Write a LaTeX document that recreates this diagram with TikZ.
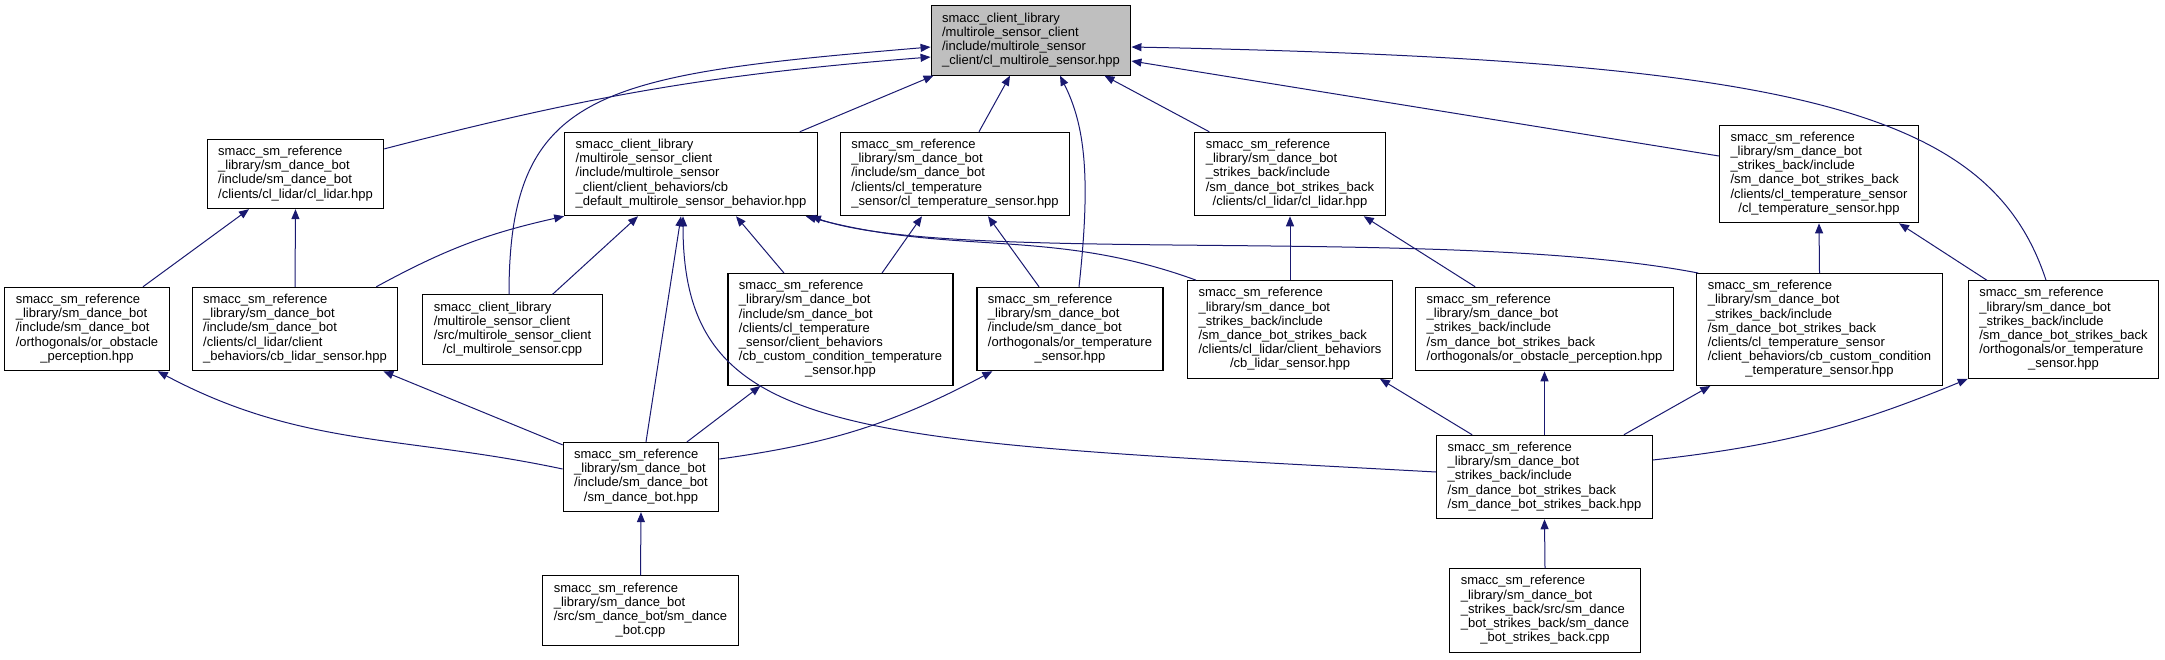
\documentclass[tikz,border=0pt]{standalone}
\usepackage{fontspec}
\setmainfont{Liberation Sans}
\usetikzlibrary{arrows.meta}
\definecolor{edgeblue}{HTML}{191970}
\definecolor{rootgray}{HTML}{BFBFBF}
\newcommand\lastln[1]{\multicolumn{1}{@{}c@{}}{#1}}
\newcommand\flines[1]{\begin{tabular}{@{}l@{}}#1\end{tabular}}
\tikzset{
  filebox/.style={draw=black,line width=1.1pt,fill=white,inner xsep=11pt,inner ysep=6.2pt,font=\fontsize{13}{14.2}\selectfont},
  rootbox/.style={filebox,fill=rootgray},
  incl/.style={draw=edgeblue,line width=1pt,->},
}
\begin{document}
\begin{tikzpicture}[x=1pt,y=1pt,>={Triangle[length=10pt,width=8pt]}]
\useasboundingbox (0,0) rectangle (2165,-659);
\node[rootbox] (mshpp) at (1031,-40.5) {\flines{smacc\_client\_library\\/multirole\_sensor\_client\\/include/multirole\_sensor\\\_client/cl\_multirole\_sensor.hpp}};
\node[filebox] (dblidar) at (295.5,-174) {\flines{smacc\_sm\_reference\\\_library/sm\_dance\_bot\\/include/sm\_dance\_bot\\/clients/cl\_lidar/cl\_lidar.hpp}};
\node[filebox] (cbdefault) at (691,-174) {\flines{smacc\_client\_library\\/multirole\_sensor\_client\\/include/multirole\_sensor\\\_client/client\_behaviors/cb\\\_default\_multirole\_sensor\_behavior.hpp}};
\node[filebox] (dbtemp) at (955,-174) {\flines{smacc\_sm\_reference\\\_library/sm\_dance\_bot\\/include/sm\_dance\_bot\\/clients/cl\_temperature\\\_sensor/cl\_temperature\_sensor.hpp}};
\node[filebox] (sblidar) at (1290,-174) {\flines{smacc\_sm\_reference\\\_library/sm\_dance\_bot\\\_strikes\_back/include\\/sm\_dance\_bot\_strikes\_back\\\lastln{/clients/cl\_lidar/cl\_lidar.hpp}}};
\node[filebox] (sbtemp) at (1819,-174) {\flines{smacc\_sm\_reference\\\_library/sm\_dance\_bot\\\_strikes\_back/include\\/sm\_dance\_bot\_strikes\_back\\/clients/cl\_temperature\_sensor\\\lastln{/cl\_temperature\_sensor.hpp}}};
\node[filebox] (dbobst) at (87,-329) {\flines{smacc\_sm\_reference\\\_library/sm\_dance\_bot\\/include/sm\_dance\_bot\\/orthogonals/or\_obstacle\\\lastln{\_perception.hpp}}};
\node[filebox] (dbcblidar) at (295,-329) {\flines{smacc\_sm\_reference\\\_library/sm\_dance\_bot\\/include/sm\_dance\_bot\\/clients/cl\_lidar/client\\\_behaviors/cb\_lidar\_sensor.hpp}};
\node[filebox] (mscpp) at (512.5,-329.5) {\flines{smacc\_client\_library\\/multirole\_sensor\_client\\/src/multirole\_sensor\_client\\\lastln{/cl\_multirole\_sensor.cpp}}};
\node[filebox] (dbcbtemp) at (840.5,-329.5) {\flines{smacc\_sm\_reference\\\_library/sm\_dance\_bot\\/include/sm\_dance\_bot\\/clients/cl\_temperature\\\_sensor/client\_behaviors\\/cb\_custom\_condition\_temperature\\\lastln{\_sensor.hpp}}};
\node[filebox] (dbortemp) at (1070,-329) {\flines{smacc\_sm\_reference\\\_library/sm\_dance\_bot\\/include/sm\_dance\_bot\\/orthogonals/or\_temperature\\\lastln{\_sensor.hpp}}};
\node[filebox] (sbcblidar) at (1290,-329.5) {\flines{smacc\_sm\_reference\\\_library/sm\_dance\_bot\\\_strikes\_back/include\\/sm\_dance\_bot\_strikes\_back\\/clients/cl\_lidar/client\_behaviors\\\lastln{/cb\_lidar\_sensor.hpp}}};
\node[filebox] (sbobst) at (1544.5,-329) {\flines{smacc\_sm\_reference\\\_library/sm\_dance\_bot\\\_strikes\_back/include\\/sm\_dance\_bot\_strikes\_back\\/orthogonals/or\_obstacle\_perception.hpp}};
\node[filebox] (sbcbtemp) at (1819.5,-329.5) {\flines{smacc\_sm\_reference\\\_library/sm\_dance\_bot\\\_strikes\_back/include\\/sm\_dance\_bot\_strikes\_back\\/clients/cl\_temperature\_sensor\\/client\_behaviors/cb\_custom\_condition\\\lastln{\_temperature\_sensor.hpp}}};
\node[filebox] (sbortemp) at (2063.5,-329.5) {\flines{smacc\_sm\_reference\\\_library/sm\_dance\_bot\\\_strikes\_back/include\\/sm\_dance\_bot\_strikes\_back\\/orthogonals/or\_temperature\\\lastln{\_sensor.hpp}}};
\node[filebox] (dbhpp) at (641,-477) {\flines{smacc\_sm\_reference\\\_library/sm\_dance\_bot\\/include/sm\_dance\_bot\\\lastln{/sm\_dance\_bot.hpp}}};
\node[filebox] (sbhpp) at (1544.5,-477) {\flines{smacc\_sm\_reference\\\_library/sm\_dance\_bot\\\_strikes\_back/include\\/sm\_dance\_bot\_strikes\_back\\/sm\_dance\_bot\_strikes\_back.hpp}};
\node[filebox] (dbcpp) at (640.5,-610.5) {\flines{smacc\_sm\_reference\\\_library/sm\_dance\_bot\\/src/sm\_dance\_bot/sm\_dance\\\lastln{\_bot.cpp}}};
\node[filebox] (sbcpp) at (1545,-610.5) {\flines{smacc\_sm\_reference\\\_library/sm\_dance\_bot\\\_strikes\_back/src/sm\_dance\\\_bot\_strikes\_back/sm\_dance\\\lastln{\_bot\_strikes\_back.cpp}}};
\draw[incl] ([yshift=-10pt]dblidar.north east) to[bend left=5] ([yshift=-16.5pt]mshpp.west);
\draw[incl] ([xshift=-3.5pt]mscpp.north) .. controls +(0,205) and +(-331,-28) .. ([yshift=-6.5pt]mshpp.west);
\draw[incl] ([xshift=-18pt]cbdefault.north east) -- ([xshift=3pt]mshpp.south west);
\draw[incl] ([xshift=24pt]dbtemp.north) -- ([xshift=-21pt]mshpp.south);
\draw[incl] ([xshift=9pt]dbortemp.north) .. controls +(12,110) and +(25,-50) .. ([xshift=29pt]mshpp.south);
\draw[incl] ([xshift=15pt]sblidar.north west) -- ([xshift=-27pt]mshpp.south east);
\draw[incl] ([yshift=18pt]sbtemp.west) -- ([yshift=-20.5pt]mshpp.east);
\draw[incl] ([xshift=-17.5pt]sbortemp.north) .. controls +(-56,170) and +(669,-13) .. ([yshift=-6.5pt]mshpp.east);
\draw[incl] ([xshift=56pt]dbobst.north) -- ([xshift=-46.5pt]dblidar.south);
\draw[incl] (dbcblidar.north) -- (dblidar.south);
\draw[incl] ([xshift=-22pt]dbcblidar.north east) to[bend left=8] (cbdefault.south west);
\draw[incl] ([xshift=40pt]mscpp.north) -- ([xshift=-53pt]cbdefault.south);
\draw[incl] ([xshift=5pt]dbhpp.north) -- ([xshift=-10pt]cbdefault.south);
\draw[incl] ([yshift=5pt]sbhpp.west) .. controls +(-587,32) and +(0,-224) .. ([xshift=-8pt]cbdefault.south);
\draw[incl] ([xshift=-56.5pt]dbcbtemp.north) -- ([xshift=45pt]cbdefault.south);
\draw[incl] ([xshift=9pt]sbcblidar.north west) to[out=160,in=-15] ([xshift=-12pt]cbdefault.south east);
\draw[incl] ([xshift=2pt]sbcbtemp.north west) .. controls +(-248,48) and +(141,-49) .. ([xshift=-7pt]cbdefault.south east);
\draw[incl] ([xshift=41.5pt]dbcbtemp.north) -- ([xshift=-33pt]dbtemp.south);
\draw[incl] ([xshift=-31pt]dbortemp.north) -- ([xshift=33pt]dbtemp.south);
\draw[incl] (sbcblidar.north) -- (sblidar.south);
\draw[incl] ([xshift=60pt]sbobst.north west) -- ([xshift=-22pt]sblidar.south east);
\draw[incl] (sbcbtemp.north) -- (sbtemp.south);
\draw[incl] ([xshift=19pt]sbortemp.north west) -- ([xshift=-20pt]sbtemp.south east);
\draw[incl] ([yshift=8pt]dbhpp.west) to[out=168,in=-28] ([xshift=-12pt]dbobst.south east);
\draw[incl] ([yshift=-3pt]dbhpp.north west) -- ([xshift=-15pt]dbcblidar.south east);
\draw[incl] ([xshift=46pt]dbhpp.north) -- ([xshift=33pt]dbcbtemp.south west);
\draw[incl] ([yshift=18pt]dbhpp.east) to[bend right=10] ([xshift=16pt]dbortemp.south west);
\draw[incl] ([xshift=36pt]sbhpp.north west) -- ([xshift=-13pt]sbcblidar.south east);
\draw[incl] (sbhpp.north) -- (sbobst.south);
\draw[incl] ([xshift=-29pt]sbhpp.north east) -- ([xshift=14pt]sbcbtemp.south west);
\draw[incl] ([yshift=17pt]sbhpp.east) to[bend right=8] (sbortemp.south west);
\draw[incl] (dbcpp.north) -- (dbhpp.south);
\draw[incl] (sbcpp.north) -- (sbhpp.south);
\end{tikzpicture}
\end{document}
